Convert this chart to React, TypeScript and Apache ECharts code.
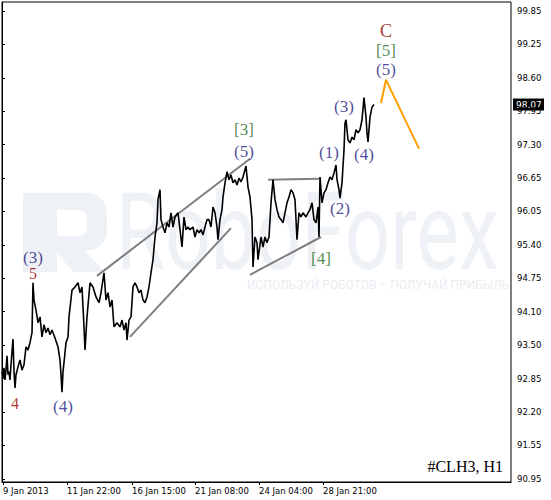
import React, { useEffect, useRef } from 'react';
import * as echarts from 'echarts';

// ---- axis ticks ----
const xTickIndex = [1, 65, 130, 193, 257, 321];
const xTickLabels = ['9 Jan 2013', '11 Jan 22:00', '16 Jan 15:00', '21 Jan 08:00', '24 Jan 04:00', '28 Jan 21:00'];
const yTickLabels = ['90.95', '91.55', '92.20', '92.85', '93.50', '94.10', '94.75', '95.40', '96.05', '96.65', '97.30', '97.95', '98.60', '99.25', '99.85'];
const yFirst = 90.95;
const yLast = 99.85;
const yMin = 90.89;
const yMax = 100.02;
const xMax = 509;

// ---- price (H1 bars, index from chart start) ----
const barIndex = [
  0, 1, 2, 3, 4, 5, 6, 7, 8, 9, 11, 12, 13, 14, 16, 18, 20, 22, 24, 26, 28, 30, 31, 32, 34, 36, 38, 40, 42, 44, 46, 48, 50, 53, 56, 58, 59, 60, 61, 62, 64, 66,
  67, 70, 73, 76, 78, 80, 82, 83, 85, 88, 91, 94, 97, 99, 102, 104, 106, 108, 110, 112, 115, 118, 120, 122, 124, 125, 127, 129, 131, 133, 135, 137, 139, 141, 143, 145, 147, 149,
  151, 153, 155, 156, 158, 159, 161, 163, 165, 167, 169, 171, 173, 176, 178, 180, 182, 184, 186, 188, 191, 193, 195, 197, 199, 201, 203, 205, 207, 209, 211, 213, 215, 216, 218,
  220, 221, 223, 225, 227, 229, 231, 233, 235, 237, 239, 241, 243, 244, 246, 248, 250, 251, 253, 255, 256, 259, 261, 263, 265, 267, 269, 271, 273, 275, 277, 279, 281, 283, 285,
  287, 289, 291, 293, 295, 297, 299, 301, 304, 306, 308, 310, 312, 314, 316, 317, 318, 320, 322, 324, 326, 328, 330, 332, 334, 335, 337, 338, 340, 342, 343, 344, 346, 348, 350,
  352, 354, 356, 358, 360, 362, 364, 365, 366, 368, 370, 372,
];
const price = [
  92.99, 92.87, 93.06, 92.83, 93.02, 93.29, 92.93, 92.99, 92.83, 93.12, 93.61, 92.99, 92.68, 92.93, 93.08, 93.21, 93.02, 93.12, 93.46, 93.40, 93.54, 93.73, 94.68, 94.35, 94.16, 93.92, 94.03, 93.65, 93.88, 93.73, 93.82, 93.69, 93.78, 93.63, 93.46, 93.21, 92.93, 92.60, 92.99, 93.16, 93.54, 93.65,
  94.03, 94.54, 94.60, 94.68, 94.49, 94.60, 93.84, 93.40, 94.03, 94.68, 94.60, 94.41, 94.30, 94.49, 94.87, 94.35, 94.49, 94.22, 94.35, 93.84, 93.92, 93.84, 93.97, 93.78, 93.92, 93.59, 93.97, 94.03, 94.60, 94.68, 94.60, 94.49, 94.54, 94.35, 94.30, 94.41, 94.60, 94.87,
  95.12, 95.55, 95.82, 96.26, 96.45, 95.88, 95.74, 95.63, 95.82, 95.74, 96.01, 95.74, 95.93, 96.01, 95.69, 95.36, 95.93, 95.69, 95.74, 95.69, 95.74, 95.55, 95.69, 95.63, 95.69, 95.59, 95.74, 95.88, 95.88, 95.74, 96.12, 96.01, 95.74, 95.50, 95.88,
  96.07, 96.31, 96.58, 96.79, 96.64, 96.73, 96.58, 96.64, 96.54, 96.67, 96.60, 96.69, 96.83, 96.90, 96.50, 96.31, 95.88, 94.98, 95.55, 95.44, 95.12, 95.55, 95.36, 95.55, 95.44, 95.55, 96.20, 96.64, 96.26, 96.07, 95.93, 95.88, 95.82, 96.01, 96.20,
  96.31, 96.45, 96.39, 96.26, 95.50, 96.01, 95.93, 96.01, 95.93, 96.01, 96.07, 96.20, 95.88, 95.82, 96.12, 95.55, 96.69, 96.20, 96.39, 96.45, 96.58, 96.69, 96.64, 96.77, 96.92, 96.64, 96.45, 96.29, 96.58, 97.21, 97.72, 97.78, 97.40, 97.34, 97.45,
  97.40, 97.59, 97.53, 97.59, 97.78, 98.20, 97.83, 97.53, 97.36, 97.83, 98.02, 98.07,
];
const lastPrice = 98.07;

// ---- forecast ----
const forecastIndex = [379, 384, 417];
const forecastPrice = [98.1, 98.54, 97.23];

// ---- trend lines ----
const channelUpperIndex = [95, 248];
const channelUpperPrice = [94.81, 97.04];
const channelLowerIndex = [128, 229];
const channelLowerPrice = [93.65, 95.72];
const triangleTopIndex = [266, 317];
const triangleTopPrice = [96.64, 96.66];
const triangleBottomIndex = [248, 319];
const triangleBottomPrice = [94.83, 95.55];

// ---- wave labels ----
const waveText = ['(3)', '5', '4', '(4)', '[3]', '(5)', '(1)', '(2)', '(3)', '(4)', '[4]', 'C', '[5]', '(5)'];
const waveIndex = [31, 31, 13, 61, 242, 242, 327, 338, 342, 362, 319, 384, 384, 384];
const wavePrice = [95.16, 94.85, 92.38, 92.32, 97.59, 97.17, 97.15, 96.09, 98.04, 97.11, 95.15, 99.46, 99.09, 98.73];
const waveDegree = ['minor', 'primary', 'primary', 'minor', 'intermediate', 'minor', 'minor', 'minor', 'minor', 'minor', 'intermediate', 'cycle', 'intermediate', 'minor'];

const degreeColor: Record<string, string> = {
  minor: '#1c1c82',
  primary: '#990000',
  intermediate: '#1f701f',
  cycle: '#8b0000',
};
const degreeSize: Record<string, number> = { minor: 17, primary: 16, intermediate: 17, cycle: 18 };

const zip = (xs: number[], ys: number[]) => xs.map((x, i) => [x, ys[i]]);

const yTickPos = yTickLabels.map((_, i) => yFirst + (i * (yLast - yFirst)) / (yTickLabels.length - 1));

const logoPath =
  'M0,0 H62 Q84,0 84,22 V36 Q84,56 62,58 L82,79 H50 L34,60 V79 H0 Z M34,17 V43 H56 Q64,43 64,35 V25 Q64,17 56,17 Z';

export default function App() {
  const ref = useRef<HTMLDivElement>(null);
  useEffect(() => {
    if (!ref.current) return;
    echarts.graphic.registerShape('rfLogo', echarts.graphic.extendPath(logoPath, {}) as any);
    const chart = echarts.init(ref.current, undefined, { renderer: 'svg' });
    const axisFont = { fontFamily: 'DejaVu Sans', fontSize: 8.5, color: '#000' };
    const trend = (xs: number[], ys: number[]) => ({
      type: 'line',
      data: zip(xs, ys),
      symbol: 'none',
      silent: true,
      z: 3,
      lineStyle: { color: '#7f7f7f', width: 2 },
    });
    const baseGraphics: any[] = [
      {
        type: 'rfLogo',
        x: 23,
        y: 193,
        z: -10,
        silent: true,
        style: { fill: '#eef1f5' },
      },
      {
        type: 'text',
        x: 116,
        y: 232,
        scaleX: 0.74,
        z: -10,
        silent: true,
        style: {
          text: 'RoboForex',
          fontFamily: 'Roboto',
          fontSize: 108,
          fill: '#eef1f5',
          verticalAlign: 'middle',
        },
      },
      {
        type: 'text',
        x: 247,
        y: 285,
        z: -10,
        silent: true,
        style: {
          text: 'ИСПОЛЬЗУЙ РОБОТОВ – ПОЛУЧАЙ ПРИБЫЛЬ',
          fontFamily: 'Roboto',
          fontSize: 12,
          fill: '#eaedf1',
          verticalAlign: 'middle',
        },
      },
      {
        type: 'text',
        right: 48,
        bottom: 26,
        silent: true,
        style: {
          text: '#CLH3, H1',
          fontFamily: 'Liberation Serif',
          fontSize: 16,
          fill: '#000',
        },
      },
    ];
    chart.setOption({
      animation: false,
      backgroundColor: '#fff',
      grid: {
        left: 2,
        top: 2,
        width: 509,
        height: 480,
        show: true,
        borderColor: '#000',
        borderWidth: 1,
        backgroundColor: 'transparent',
      },
      graphic: baseGraphics,
      xAxis: {
        type: 'value',
        min: 0,
        max: xMax,
        position: 'bottom',
        axisLine: { show: true, lineStyle: { color: '#000', width: 1 } },
        axisTick: { show: true, customValues: xTickIndex, length: 3, lineStyle: { color: '#000' } },
        axisLabel: {
          ...axisFont,
          customValues: xTickIndex,
          align: 'left',
          margin: 4,
          formatter: (v: number) => {
            const i = xTickIndex.indexOf(Math.round(v));
            return i >= 0 ? xTickLabels[i] : '';
          },
        },
        splitLine: { show: false },
      },
      yAxis: {
        type: 'value',
        position: 'right',
        min: yMin,
        max: yMax,
        axisLine: { show: true, lineStyle: { color: '#000', width: 1 } },
        axisTick: { show: true, customValues: yTickPos, length: 3, lineStyle: { color: '#000' } },
        axisLabel: {
          ...axisFont,
          customValues: yTickPos,
          margin: 6,
          formatter: (v: number) => {
            let best = 0;
            yTickPos.forEach((p, i) => {
              if (Math.abs(p - v) < Math.abs(yTickPos[best] - v)) best = i;
            });
            return yTickLabels[best];
          },
        },
        splitLine: { show: false },
      },
      series: [
        trend(channelUpperIndex, channelUpperPrice),
        trend(channelLowerIndex, channelLowerPrice),
        trend(triangleTopIndex, triangleTopPrice),
        trend(triangleBottomIndex, triangleBottomPrice),
        {
          type: 'line',
          data: zip(barIndex, price),
          symbol: 'none',
          z: 4,
          lineStyle: { color: '#000', width: 1.6 },
        },
        {
          type: 'line',
          data: zip(forecastIndex, forecastPrice),
          symbol: 'none',
          z: 4,
          lineStyle: { color: '#ffa000', width: 2 },
        },
        {
          type: 'scatter',
          symbolSize: 0,
          z: 5,
          silent: true,
          data: waveText.map((t, i) => ({
            value: [waveIndex[i], wavePrice[i]],
            label: {
              show: true,
              position: 'inside',
              formatter: t,
              color: degreeColor[waveDegree[i]],
              fontSize: degreeSize[waveDegree[i]],
              fontFamily: 'Liberation Serif',
            },
          })),
        },
      ],
    });
    // current-price tag on the price axis, placed through the chart's own scales
    try {
      const pt = chart.convertToPixel({ gridIndex: 0 }, [xMax, lastPrice]) as number[];
      if (pt && isFinite(pt[0]) && isFinite(pt[1])) {
        chart.setOption(
          {
            graphic: [
              ...baseGraphics,
              {
                type: 'group',
                x: pt[0] + 2,
                y: pt[1],
                z: 100,
                silent: true,
                children: [
                  { type: 'rect', shape: { x: 0, y: -6, width: 31, height: 12 }, style: { fill: '#000' } },
                  {
                    type: 'text',
                    x: 3,
                    y: 0,
                    style: {
                      text: lastPrice.toFixed(2),
                      fill: '#fff',
                      fontFamily: 'DejaVu Sans',
                      fontSize: 9,
                      verticalAlign: 'middle',
                    },
                  },
                ],
              },
            ],
          },
          { replaceMerge: ['graphic'] }
        );
      }
    } catch (e) {
      // keep the chart even if the tag cannot be placed
    }
    return () => chart.dispose();
  }, []);
  return <div ref={ref} style={{ position: 'fixed', left: 0, top: 0, width: 551, height: 500 }} />;
}
